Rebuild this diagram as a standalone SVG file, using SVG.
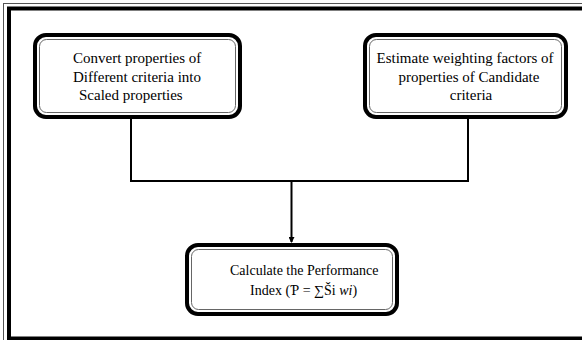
<svg xmlns="http://www.w3.org/2000/svg" width="582" height="340" viewBox="0 0 582 340">
<style>
.outer{fill:#fff;stroke:#000;stroke-width:4}
.inner{fill:none;stroke:#666;stroke-width:1}
.t{font-family:'Liberation Serif','Times New Roman',serif;font-size:15px;fill:#000}
.s{font-size:14px}
.c{fill:none;stroke:#000;stroke-width:2}
</style>
<defs>
<marker id="ah" markerWidth="6" markerHeight="6" refX="5" refY="3" orient="auto" markerUnits="userSpaceOnUse">
<path d="M0,0 L6,3 L0,6 Z" fill="#000"/>
</marker>
</defs>
<rect x="0" y="0" width="582" height="340" fill="#fff"/>
<g id="frame">
<rect x="3.5" y="3.5" width="600" height="360" fill="none" stroke="#555" stroke-width="1"/>
<rect x="9" y="8.5" width="600" height="330" fill="none" stroke="#000" stroke-width="4"/>
</g>
<g id="connectors">
<polyline class="c" points="131,119 131,181 468,181 468,119"/>
<line class="c" x1="291.5" y1="181" x2="291.5" y2="242" marker-end="url(#ah)"/>
</g>
<g id="node1">
<rect class="outer" x="35" y="35" width="205" height="82" rx="11"/>
<rect class="inner" x="39.5" y="39.5" width="196" height="73" rx="7"/>
<text class="t" x="73" y="63">Convert properties of</text>
<text class="t" x="73" y="82">Different criteria into</text>
<text class="t" x="79" y="100">Scaled properties</text>
</g>
<g id="node2">
<rect class="outer" x="365" y="35" width="201" height="82" rx="11"/>
<rect class="inner" x="369.5" y="39.5" width="192" height="73" rx="7"/>
<text class="t" x="465" y="63" text-anchor="middle">Estimate weighting factors of</text>
<text class="t" x="469" y="82" text-anchor="middle">properties of Candidate</text>
<text class="t" x="471" y="100" text-anchor="middle">criteria</text>
</g>
<g id="node3">
<rect class="outer" x="187" y="245" width="210" height="69" rx="11"/>
<rect class="inner" x="191.5" y="249.5" width="201" height="60" rx="7"/>
<text class="t s" x="230" y="275">Calculate the Performance</text>
<text class="t s" x="250" y="295">Index (Ƥ = ∑Ši  <tspan font-style="italic">wi</tspan>)</text>
</g>
</svg>
